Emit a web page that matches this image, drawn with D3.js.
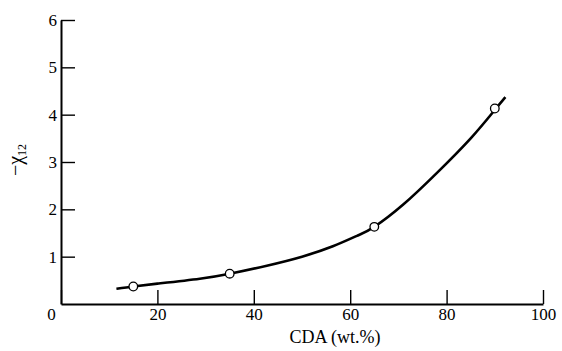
<!doctype html>
<html>
<head>
<meta charset="utf-8"/>
<title>-chi12 vs CDA</title>
<script src="https://d3js.org/d3.v7.min.js"></script>
<style>
  body { margin: 0; background: #fff; }
  svg text { font-family: "Liberation Serif", serif !important; fill: #000; }
</style>
</head>
<body>
<div id="chart"></div>
<script>
  // measured points (CDA wt.%, -chi12)
  var cda = [15, 35, 65, 90];
  var chi = [0.37, 0.64, 1.63, 4.13];

  // the drawn smooth curve
  var curveX = [11.5, 15, 20, 28.8, 35, 42.7, 50, 56.4, 61.4, 65, 71, 78, 85, 90, 92.2];
  var curveY = [0.32, 0.37, 0.43, 0.535, 0.64, 0.81, 1.0, 1.22, 1.44, 1.63, 2.1, 2.77, 3.5, 4.1, 4.37];

  var xTicks = [0, 20, 40, 60, 80, 100];
  var yTicks = [1, 2, 3, 4, 5, 6];

  var W = 562, H = 351;
  var x0 = 61, x1 = 543, y0 = 304, y1 = 20;

  var svg = d3.select("#chart")
    .append("svg")
    .attr("width", W)
    .attr("height", H);

  var x = d3.scaleLinear().domain([0, 100]).range([x0, x1]);
  var y = d3.scaleLinear().domain([0, 6]).range([y0, y1]);

  // x axis
  var gx = svg.append("g")
    .attr("transform", "translate(0," + y0 + ")")
    .call(d3.axisBottom(x).tickValues(xTicks).tickFormat(d3.format("d"))
      .tickSize(-14).tickSizeOuter(0).tickPadding(4));
  gx.attr("font-family", null);
  gx.select(".domain").attr("stroke-width", 2.2);
  gx.selectAll(".tick line").attr("stroke-width", 1.4);
  gx.selectAll(".tick text")
    .style("font-size", "17px")
    .attr("dx", function(d) { return d === 0 ? -10 : 0; });

  // y axis
  var gy = svg.append("g")
    .attr("transform", "translate(" + x0 + ",0)")
    .call(d3.axisLeft(y).tickValues(yTicks).tickFormat(d3.format("d"))
      .tickSize(-14).tickSizeOuter(0).tickPadding(4));
  gy.attr("font-family", null);
  gy.select(".domain").attr("stroke-width", 2);
  gy.selectAll(".tick line").attr("stroke-width", 1.4);
  gy.selectAll(".tick text")
    .style("font-size", "17px");

  // curve
  var pts = curveX.map(function(v, i) { return [v, curveY[i]]; });
  var line = d3.line()
    .x(function(d) { return x(d[0]); })
    .y(function(d) { return y(d[1]); })
    .curve(d3.curveNatural);

  svg.append("path")
    .datum(pts)
    .attr("d", line)
    .attr("fill", "none")
    .attr("stroke", "#000")
    .attr("stroke-width", 2.6);

  // open circles
  svg.selectAll("circle")
    .data(cda)
    .enter().append("circle")
    .attr("cx", function(d) { return x(d); })
    .attr("cy", function(d, i) { return y(chi[i]); })
    .attr("r", 4.3)
    .attr("fill", "#fff")
    .attr("stroke", "#000")
    .attr("stroke-width", 1.3);

  // axis titles
  svg.append("text")
    .attr("x", 335)
    .attr("y", 343)
    .attr("text-anchor", "middle")
    .style("font-size", "18px")
    .text("CDA (wt.%)");

  var yl = svg.append("text")
    .attr("transform", "translate(22,160) rotate(-90)")
    .attr("text-anchor", "middle")
    .style("font-size", "20px");
  yl.append("tspan").text("\u2212\u03c7");
  yl.append("tspan").style("font-size", "12px").attr("dy", 4).text("12");
</script>
</body>
</html>
